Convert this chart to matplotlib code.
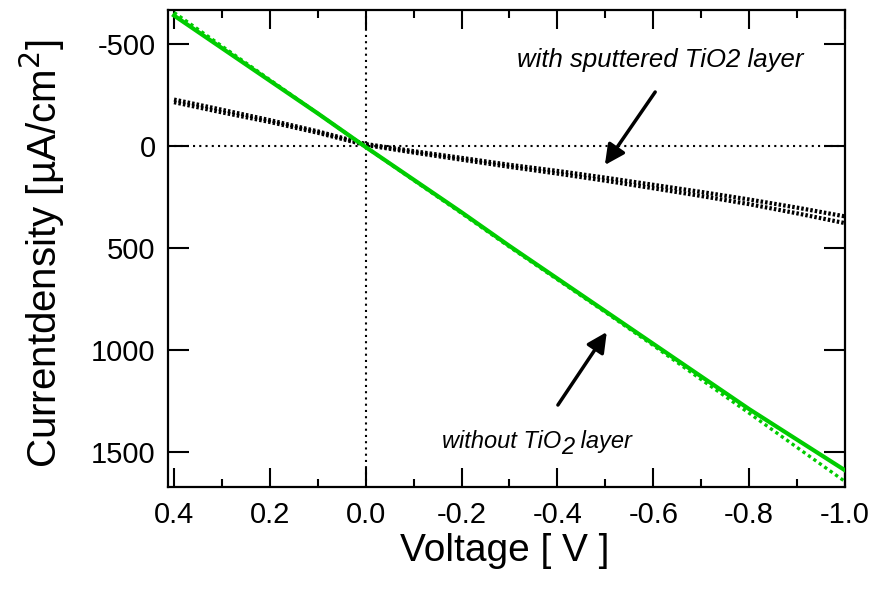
import matplotlib
matplotlib.use("Agg")
import matplotlib.pyplot as plt
from matplotlib.ticker import MultipleLocator, FixedLocator
from matplotlib.transforms import offset_copy

plt.rcParams['font.family'] = ['Liberation Sans', 'DejaVu Sans']

# Voltage sweep (V)
voltage = [0.4, 0.3, 0.2, 0.1, 0.0, -0.1, -0.2, -0.3, -0.4, -0.5, -0.6, -0.7, -0.8, -0.9, -1.0]

# Without TiO2 layer: two scans (µA/cm²)
j_bare_1 = [-640, -480, -320, -160, 5, 165, 325, 490, 650, 810, 970, 1130, 1290, 1440, 1590]
j_bare_2 = [-655, -490, -325, -160, 5, 168, 330, 495, 655, 815, 978, 1145, 1310, 1478, 1645]

# With sputtered TiO2 layer: two scans (µA/cm²)
j_tio2_1 = [-228, -178, -127, -72, -10, 25, 58, 92, 122, 155, 190, 225, 262, 302, 345]
j_tio2_2 = [-215, -165, -118, -65, -5, 32, 67, 102, 135, 170, 207, 245, 285, 330, 378]

x_major = [0.4, 0.2, 0.0, -0.2, -0.4, -0.6, -0.8, -1.0]
x_labels = ["0.4", "0.2", "0.0", "-0.2", "-0.4", "-0.6", "-0.8", "-1.0"]
y_major = [-500, 0, 500, 1000, 1500]
y_labels = ["-500", "0", "500", "1000", "1500"]

green = "#00cc00"

fig = plt.figure(figsize=(8.72, 5.90), dpi=100)
ax = fig.add_axes([0.1927, 0.1746, 0.7763, 0.8084])

# zero reference lines
ax.axhline(0, color="black", lw=1.5, ls=(0, (1, 2)), zorder=1)
ax.axvline(0, color="black", lw=1.5, ls=(0, (1, 2)), zorder=1)

ax.plot(voltage, j_tio2_1, color="black", lw=3.0, ls=(0, (0.6, 0.5)), zorder=2)
ax.plot(voltage, j_tio2_2, color="black", lw=3.0, ls=(0, (0.6, 0.5)), zorder=2)
ax.plot(voltage, j_bare_2, color=green, lw=2.4, ls=(0, (1, 1)), zorder=3)
ax.plot(voltage, j_bare_1, color=green, lw=3.0, zorder=4)

ax.set_xlim(0.4125, -1.0)
ax.set_ylim(1672, -667)

ax.xaxis.set_major_locator(FixedLocator(x_major))
ax.set_xticklabels(x_labels)
ax.xaxis.set_minor_locator(MultipleLocator(0.1))
ax.yaxis.set_major_locator(FixedLocator(y_major))
ax.set_yticklabels(y_labels)

ax.tick_params(which="both", direction="in", top=True, right=True, width=1.5,
               labelsize=21, colors="black")
ax.tick_params(axis="x", which="major", length=14, pad=10)
ax.tick_params(axis="x", which="minor", length=6)
ax.tick_params(axis="y", which="major", length=15, pad=9)
for s in ax.spines.values():
    s.set_linewidth(1.6)

ax.set_xlabel("Voltage [ V ]", fontsize=28)
ax.xaxis.set_label_coords(0.498, -0.135)
ax.xaxis.label.set_verticalalignment("center")
ax.set_ylabel(r"Currentdensity [µA/cm$^{2}$]", fontsize=29)
ax.yaxis.set_label_coords(-0.186, 0.49)
ax.yaxis.label.set_verticalalignment("center")

arrow = dict(arrowstyle="-|>", lw=2.5, color="black", mutation_scale=30,
             shrinkA=0, shrinkB=0)
ax.annotate("", xy=(-0.499, 93), xytext=(-0.604, -265), arrowprops=arrow)
ax.annotate("", xy=(-0.503, 912), xytext=(-0.401, 1270), arrowprops=arrow)

ax.text(-0.614, -422, "with sputtered TiO2 layer", fontsize=18.5, style="italic",
        ha="center", va="center")

# "without TiO2 layer" with a large, lowered subscript, built piece by piece
fig.canvas.draw()
renderer = fig.canvas.get_renderer()
ann_size = 17
x0, y0 = -0.159, 1451
t1 = ax.text(x0, y0, "without TiO", fontsize=ann_size, style="italic",
             ha="left", va="center")
w1 = t1.get_window_extent(renderer).width
t2 = ax.text(x0, y0, "2", fontsize=ann_size, style="italic", ha="left", va="center",
             transform=offset_copy(ax.transData, fig=fig, x=w1, y=-6, units="dots"))
w2 = t2.get_window_extent(renderer).width
ax.text(x0, y0, " layer", fontsize=ann_size, style="italic", ha="left", va="center",
        transform=offset_copy(ax.transData, fig=fig, x=w1 + w2, y=0, units="dots"))

fig.savefig("out.png", dpi=100)
